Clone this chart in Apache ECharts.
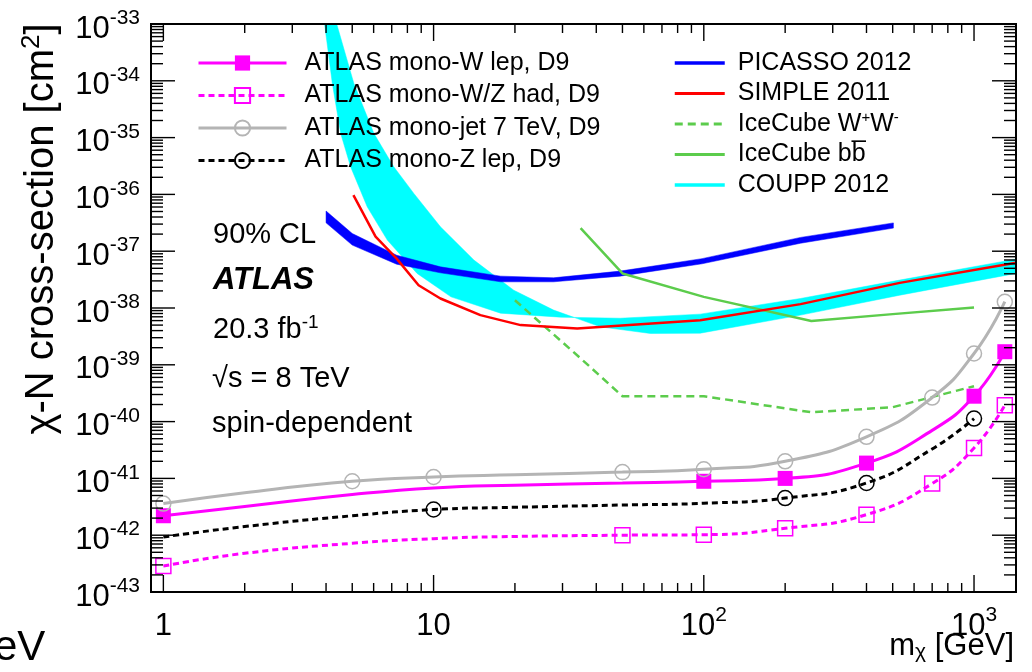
<!DOCTYPE html>
<html>
<head>
<meta charset="utf-8">
<script src="https://cdn.jsdelivr.net/npm/echarts@6.0.0/dist/echarts.min.js"></script>
<style>
html, body { margin: 0; padding: 0; background: #fff; }
#chart { width: 1032px; height: 672px; }
</style>
</head>
<body>
<div id="chart"></div>
<script>
const FONT = "'Liberation Sans', Arial, Helvetica, sans-serif";

// ---- axes ----
const X_MIN = 0.9, X_MAX = 1430;
const Y_MIN = 1e-43, Y_MAX = 1e-33;
const xMajorTicks = [1, 10, 100, 1000];
const xTickLabels = ['1', '10', '10^2', '10^3'];
const yMajorTicks = [1e-43, 1e-42, 1e-41, 1e-40, 1e-39, 1e-38, 1e-37, 1e-36, 1e-35, 1e-34, 1e-33];
const yTickLabels = ['10^-43', '10^-42', '10^-41', '10^-40', '10^-39', '10^-38', '10^-37', '10^-36', '10^-35', '10^-34', '10^-33'];

// ---- ATLAS limits (curve points; "marked" = drawn with a marker) ----
const wlepMass   = [1, 2, 5, 10, 20, 50, 100, 200, 400, 700, 1000, 1300];
const wlepXsec   = [2.2e-42, 3.2e-42, 5.2e-42, 6.8e-42, 7.6e-42, 8.3e-42, 8.9e-42, 1.0e-41, 1.86e-41, 7.0e-41, 2.8e-40, 1.7e-39];
const wlepMarked = [1, 0, 0, 0, 0, 0, 1, 1, 1, 0, 1, 1];

const wzhadMass   = [1, 2, 5, 10, 20, 50, 100, 200, 400, 700, 1000, 1300];
const wzhadXsec   = [2.87e-43, 4.8e-43, 7.2e-43, 8.7e-43, 9.5e-43, 1.0e-42, 1.02e-42, 1.32e-42, 2.3e-42, 8.1e-42, 3.44e-41, 1.94e-40];
const wzhadMarked = [1, 0, 0, 0, 0, 1, 1, 1, 1, 1, 1, 1];

const monojetMass   = [1, 2, 5, 10, 20, 50, 100, 200, 400, 700, 1000, 1300];
const monojetXsec   = [3.6e-42, 5.6e-42, 8.9e-42, 1.06e-41, 1.16e-41, 1.29e-41, 1.45e-41, 2.0e-41, 5.4e-41, 2.65e-40, 1.58e-39, 1.29e-38];
const monojetMarked = [1, 0, 1, 1, 0, 1, 1, 1, 1, 1, 1, 1];

const zlepMass   = [1, 2, 5, 10, 20, 50, 100, 200, 400, 700, 1000];
const zlepXsec   = [9.3e-43, 1.42e-42, 2.2e-42, 2.83e-42, 3.1e-42, 3.4e-42, 3.65e-42, 4.5e-42, 8.3e-42, 3.3e-41, 1.13e-40];
const zlepMarked = [0, 0, 0, 1, 0, 0, 0, 1, 1, 0, 1];

// ---- other experiments ----
const picassoMass = [4.0, 5.0, 7.3, 10.6, 17.7, 27.8, 49, 98.5, 228, 503];
const picassoHigh = [5.1e-37, 2.05e-37, 8.5e-38, 5.3e-38, 3.64e-38, 3.4e-38, 4.46e-38, 7.4e-38, 1.75e-37, 3.15e-37];
const picassoLow  = [3.16e-37, 1.28e-37, 5.9e-38, 4.16e-38, 2.89e-38, 2.89e-38, 3.64e-38, 6.0e-38, 1.38e-37, 2.55e-37];

const simpleMass = [5.05, 6.1, 7.3, 8.8, 10.6, 14.9, 21, 34, 97, 228, 531, 1430];
const simpleXsec = [9.7e-37, 1.8e-37, 7.4e-38, 2.52e-38, 1.47e-38, 7.5e-39, 5.0e-39, 4.36e-39, 6.1e-39, 1.17e-38, 2.77e-38, 6.25e-38];

const iceWWMass = [20, 35, 50, 100, 250, 500, 1000];
const iceWWXsec = [1.37e-38, 1.3e-39, 2.8e-40, 2.8e-40, 1.46e-40, 1.79e-40, 4.2e-40];

const iceBBMass = [35, 50, 100, 250, 500, 1000];
const iceBBXsec = [2.55e-37, 4.06e-38, 1.57e-38, 5.9e-39, 7.8e-39, 1.02e-38];

const coupUpperMass = [3.95, 4.22, 4.53, 4.93, 5.68, 6.74, 8.69, 11.6, 17.7, 29.5, 49, 97, 228, 531, 1430];
const coupUpperXsec = [1e-33, 9.0e-35, 1.19e-35, 3.07e-36, 6.05e-37, 1.57e-37, 4.06e-38, 1.57e-38, 8.1e-39, 6.9e-39, 6.6e-39, 7.8e-39, 1.47e-38, 3.1e-38, 7.25e-38];
const coupLowerMass = [4.38, 5.07, 6.01, 7.12, 8.45, 10.6, 14.1, 19.8, 27.8, 41.4, 63.4, 97, 228, 531, 1430];
const coupLowerXsec = [1e-33, 9.0e-35, 1.19e-35, 3.07e-36, 1.04e-36, 2.69e-37, 6.97e-38, 2.06e-38, 9.2e-39, 4.66e-39, 3.56e-39, 3.6e-39, 7.5e-39, 1.68e-38, 4.06e-38];

// ---- colours ----
const C_MAG = '#ff00ff', C_GRAY = '#b4b4b4', C_BLUE = '#0000ff', C_RED = '#ff0000', C_GREEN = '#5ccc4c', C_CYAN = '#00ffff';

// ---- helpers ----
function pairs(xs, ys) { return xs.map((x, i) => [x, ys[i]]); }
function atlasData(xs, ys, marked) {
  return xs.map((x, i) => marked[i] ? { value: [x, ys[i]] } : { value: [x, ys[i]], symbol: 'none' });
}
function findTick(ticks, v) {
  return ticks.findIndex(t => Math.abs(Math.log10(v) - Math.log10(t)) < 1e-3);
}
function supLabel(label) {
  const p = label.split('^');
  return p.length > 1 ? '{b|' + p[0] + '}{s|' + p[1] + '}' : '{b|' + p[0] + '}';
}
function bandRenderer(ux, uy, lx, ly, color) {
  return function (params, api) {
    const pts = [];
    for (let i = 0; i < ux.length; i++) pts.push(api.coord([ux[i], uy[i]]));
    for (let i = lx.length - 1; i >= 0; i--) pts.push(api.coord([lx[i], ly[i]]));
    return { type: 'polygon', shape: { points: pts }, style: { fill: color, stroke: color, lineWidth: 0.5 } };
  };
}

const xMinorTicks = [], yMinorTicks = [];
xMajorTicks.forEach(d => { for (let k = 2; k <= 9; k++) if (k * d < X_MAX) xMinorTicks.push(k * d); });
yMajorTicks.slice(0, -1).forEach(d => { for (let k = 2; k <= 9; k++) yMinorTicks.push(k * d); });

const yLabelRich = {
  b: { fontSize: 31, lineHeight: 42, fontFamily: FONT, fill: '#000' },
  s: { fontSize: 21, lineHeight: 22, verticalAlign: 'top', fontFamily: FONT, fill: '#000' }
};

function frameRenderer(params, api) {
  const els = [];
  const cs = params.coordSys;
  const add = (x1, y1, x2, y2) => els.push({ type: 'line', shape: { x1, y1, x2, y2 }, style: { stroke: '#000', lineWidth: 1.4 } });
  xMajorTicks.map(v => [v, 17]).concat(xMinorTicks.map(v => [v, 9])).forEach(([v, L]) => {
    const b = api.coord([v, Y_MIN]), t = api.coord([v, Y_MAX]);
    add(b[0], b[1], b[0], b[1] - L);
    add(t[0], t[1], t[0], t[1] + L);
  });
  yMajorTicks.map(v => [v, 24]).concat(yMinorTicks.map(v => [v, 12])).forEach(([v, L]) => {
    const l = api.coord([X_MIN, v]), r = api.coord([X_MAX, v]);
    add(l[0], l[1], l[0] + L, l[1]);
    add(r[0], r[1], r[0] - L, r[1]);
  });
  // y tick labels (10^n) placed through the axis scale
  yMajorTicks.forEach((v, i) => {
    const p = api.coord([X_MIN, v]);
    els.push({ type: 'text', x: cs.x - 11, y: p[1] + 5,
      style: { text: supLabel(yTickLabels[i]), align: 'right', verticalAlign: 'middle', rich: yLabelRich } });
  });
  els.push({ type: 'rect', shape: { x: cs.x, y: cs.y, width: cs.width, height: cs.height }, style: { fill: 'none', stroke: '#000', lineWidth: 2 } });
  return { type: 'group', children: els };
}

const chart = echarts.init(document.getElementById('chart'), null, { renderer: 'canvas' });

const atlasLine = (name, xs, ys, marked, color, lineType, symbol, filled) => ({
  type: 'line', name, z: 5,
  data: atlasData(xs, ys, marked),
  smooth: 0.5,
  symbol, symbolSize: 15, showSymbol: true, showAllSymbol: true,
  lineStyle: { color, width: 3, type: lineType },
  itemStyle: filled ? { color } : { color: 'rgba(255,255,255,0)', borderColor: color, borderWidth: 1.5 },
  emphasis: { disabled: true }
});

const option = {
  animation: false,
  backgroundColor: '#fff',
  grid: { left: 151, right: 16, top: 24, bottom: 80, containLabel: false, outerBoundsMode: 'none' },
  xAxis: {
    type: 'log', logBase: 10, min: X_MIN, max: X_MAX,
    axisLine: { show: false }, axisTick: { show: false }, splitLine: { show: false },
    axisLabel: {
      margin: 13,
      formatter: v => { const i = findTick(xMajorTicks, v); return i < 0 ? '' : supLabel(xTickLabels[i]); },
      rich: {
        b: { fontSize: 31, lineHeight: 42, fontFamily: FONT, color: '#000' },
        s: { fontSize: 21, lineHeight: 16, verticalAlign: 'top', fontFamily: FONT, color: '#000' }
      }
    }
  },
  yAxis: {
    type: 'log', logBase: 10, min: Y_MIN, max: Y_MAX,
    axisLine: { show: false }, axisTick: { show: false }, splitLine: { show: false },
    axisLabel: { show: false }
  },
  legend: [
    {
      orient: 'vertical', left: 197, top: 49, padding: 0, itemWidth: 88, itemHeight: 19, itemGap: 4.5,
      selectedMode: false,
      textStyle: { fontFamily: FONT, fontSize: 25, lineHeight: 28, color: '#000', padding: [0, 0, 0, 13] },
      data: [
        { name: 'ATLAS mono-W lep, D9', lineStyle: { width: 3 } },
        { name: 'ATLAS mono-W/Z had, D9', lineStyle: { width: 3 } },
        { name: 'ATLAS mono-jet 7 TeV, D9', lineStyle: { width: 3 } },
        { name: 'ATLAS mono-Z lep, D9', lineStyle: { width: 3 } }
      ]
    },
    {
      orient: 'vertical', left: 673, top: 49, padding: 0, itemWidth: 50, itemHeight: 14, itemGap: 2.5,
      selectedMode: false,
      textStyle: {
        fontFamily: FONT, fontSize: 25, lineHeight: 28, color: '#000', padding: [0, 0, 0, 8],
        rich: { sup: { fontSize: 15, lineHeight: 14, verticalAlign: 'top', fontFamily: FONT, color: '#000' } }
      },
      formatter: name => name === 'IceCube W+W-' ? 'IceCube W{sup|+}W{sup|-}' : (name === 'IceCube bb' ? 'IceCube bb\u0305' : name),
      data: [
        { name: 'PICASSO 2012', itemStyle: { opacity: 0 }, lineStyle: { width: 3.5 } },
        { name: 'SIMPLE 2011', itemStyle: { opacity: 0 }, lineStyle: { width: 3 } },
        { name: 'IceCube W+W-', itemStyle: { opacity: 0 }, lineStyle: { width: 3 } },
        { name: 'IceCube bb', itemStyle: { opacity: 0 }, lineStyle: { width: 3 } },
        { name: 'COUPP 2012', itemStyle: { opacity: 0 }, lineStyle: { width: 3.5 } }
      ]
    }
  ],
  graphic: [
    { type: 'text', x: 42, y: 229, rotation: Math.PI / 2, z: 100,
      style: { text: '{n|\u03c7-N cross-section [cm}{s|2}{n|]}', align: 'center', verticalAlign: 'middle',
        rich: { n: { fontSize: 40, lineHeight: 46, fontFamily: FONT, fill: '#000' },
                s: { fontSize: 26, lineHeight: 18, verticalAlign: 'top', fontFamily: FONT, fill: '#000' } } } },
    { type: 'text', x: 1014, y: 646, z: 100,
      style: { text: '{n|m}{u|\u03c7}{n| [GeV]}', align: 'right', verticalAlign: 'middle',
        rich: { n: { fontSize: 31, lineHeight: 34, fontFamily: FONT, fill: '#000' },
                u: { fontSize: 21, lineHeight: 24, verticalAlign: 'bottom', fontFamily: FONT, fill: '#000' } } } },
    { type: 'text', x: -6, y: 648, z: 100,
      style: { text: 'eV', fontSize: 42, fontFamily: FONT, fill: '#000', verticalAlign: 'middle' } },
    { type: 'text', x: 213, y: 235, z: 100,
      style: { text: '90% CL', fontSize: 29, fontFamily: FONT, fill: '#000', verticalAlign: 'middle' } },
    { type: 'text', x: 213, y: 280, z: 100,
      style: { text: 'ATLAS', fontSize: 31, fontWeight: 'bold', fontStyle: 'italic', fontFamily: FONT, fill: '#000', verticalAlign: 'middle' } },
    { type: 'text', x: 213, y: 330, z: 100,
      style: { text: '{n|20.3 fb}{s|-1}', verticalAlign: 'middle',
        rich: { n: { fontSize: 29, lineHeight: 34, fontFamily: FONT, fill: '#000' },
                s: { fontSize: 19, lineHeight: 16, verticalAlign: 'top', fontFamily: FONT, fill: '#000' } } } },
    { type: 'text', x: 212, y: 379, z: 100,
      style: { text: '\u221as = 8 TeV', fontSize: 29, fontFamily: FONT, fill: '#000', verticalAlign: 'middle' } },
    { type: 'text', x: 212, y: 424, z: 100,
      style: { text: 'spin-dependent', fontSize: 29, fontFamily: FONT, fill: '#000', verticalAlign: 'middle' } }
  ],
  series: [
    { type: 'custom', name: 'COUPP band', z: 1, silent: true, data: [[10, 1e-38]],
      renderItem: bandRenderer(coupUpperMass, coupUpperXsec, coupLowerMass, coupLowerXsec, C_CYAN) },
    { type: 'custom', name: 'PICASSO band', z: 3, silent: true, data: [[10, 1e-37]],
      renderItem: bandRenderer(picassoMass, picassoHigh, picassoMass, picassoLow, C_BLUE) },
    { type: 'line', name: 'SIMPLE 2011', z: 4, data: pairs(simpleMass, simpleXsec), symbol: 'none',
      lineStyle: { color: C_RED, width: 2.5 }, itemStyle: { color: C_RED }, emphasis: { disabled: true } },
    { type: 'line', name: 'IceCube W+W-', z: 3, data: pairs(iceWWMass, iceWWXsec), symbol: 'none',
      lineStyle: { color: C_GREEN, width: 2.5, type: [8, 5] }, itemStyle: { color: C_GREEN }, emphasis: { disabled: true } },
    { type: 'line', name: 'IceCube bb', z: 3, data: pairs(iceBBMass, iceBBXsec), symbol: 'none',
      lineStyle: { color: C_GREEN, width: 2.5 }, itemStyle: { color: C_GREEN }, emphasis: { disabled: true } },
    { type: 'line', name: 'PICASSO 2012', data: [], symbol: 'none', lineStyle: { color: C_BLUE, width: 3.5 }, itemStyle: { color: C_BLUE } },
    { type: 'line', name: 'COUPP 2012', data: [], symbol: 'none', lineStyle: { color: C_CYAN, width: 3.5 }, itemStyle: { color: C_CYAN } },
    atlasLine('ATLAS mono-W lep, D9', wlepMass, wlepXsec, wlepMarked, C_MAG, 'solid', 'rect', true),
    atlasLine('ATLAS mono-W/Z had, D9', wzhadMass, wzhadXsec, wzhadMarked, C_MAG, [6, 4], 'rect', false),
    atlasLine('ATLAS mono-jet 7 TeV, D9', monojetMass, monojetXsec, monojetMarked, C_GRAY, 'solid', 'circle', false),
    atlasLine('ATLAS mono-Z lep, D9', zlepMass, zlepXsec, zlepMarked, '#000', [6, 4], 'circle', false),
    { type: 'custom', name: 'frame', z: 10, silent: true, clip: false, data: [[1, 1e-38]], renderItem: frameRenderer }
  ]
};
chart.setOption(option);
</script>
</body>
</html>
